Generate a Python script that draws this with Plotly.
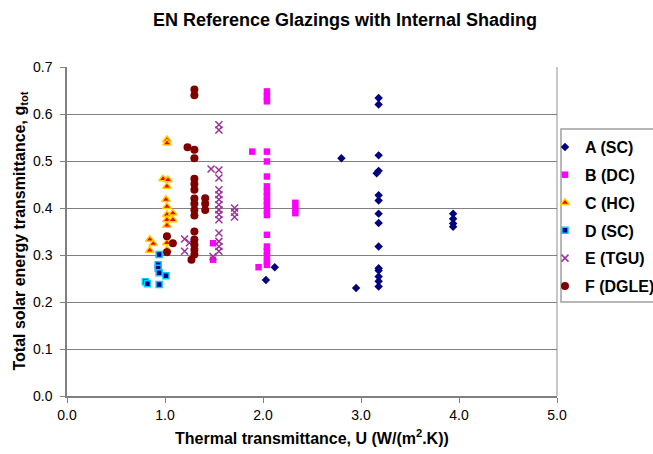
import plotly.graph_objects as go

# ---- data (U in W/(m2.K), g_tot) ----
a_u = [3.18, 3.18, 2.80, 3.18, 3.16, 3.18, 3.18, 3.18, 3.18, 3.18, 3.18, 3.18, 3.18, 3.18, 3.18, 3.18, 2.95, 2.12, 2.03, 3.94, 3.94, 3.94, 3.94]
a_g = [0.634, 0.620, 0.506, 0.512, 0.474, 0.479, 0.427, 0.416, 0.388, 0.368, 0.318, 0.272, 0.267, 0.254, 0.244, 0.233, 0.230, 0.274, 0.247, 0.388, 0.377, 0.367, 0.360]

b_u = [2.04] * 19 + [1.89, 1.955, 2.33, 2.33, 2.33, 1.49, 1.49]
b_g = [0.648, 0.637, 0.627, 0.520, 0.499, 0.467, 0.446, 0.435, 0.425, 0.415, 0.405, 0.395, 0.385, 0.343, 0.318, 0.308, 0.297, 0.286, 0.279,
       0.520, 0.274, 0.411, 0.400, 0.389, 0.325, 0.290]

c_u = [1.02, 1.02, 0.98, 1.03, 1.02, 1.01, 1.02, 1.02, 1.02, 1.02, 1.08, 1.08, 0.845, 0.88, 0.845, 1.02, 1.02]
c_g = [0.545, 0.538, 0.462, 0.460, 0.446, 0.418, 0.403, 0.386, 0.375, 0.363, 0.389, 0.375, 0.333, 0.324, 0.310, 0.326, 0.311]

d_u = [0.94, 0.93, 0.93, 0.94, 1.01, 0.80, 0.82, 0.94]
d_g = [0.301, 0.279, 0.272, 0.262, 0.256, 0.243, 0.239, 0.237]

e_u = [1.55, 1.55, 1.47, 1.55, 1.55, 1.55, 1.55, 1.55, 1.55, 1.55, 1.55, 1.55, 1.71, 1.71, 1.71, 1.55, 1.55, 1.55, 1.55, 1.49, 1.20, 1.20, 1.25]
e_g = [0.577, 0.566, 0.483, 0.481, 0.464, 0.439, 0.428, 0.418, 0.407, 0.396, 0.386, 0.375, 0.400, 0.391, 0.381, 0.347, 0.329, 0.318, 0.308, 0.297, 0.334, 0.308, 0.326]

f_u = [1.30, 1.30, 1.23, 1.30, 1.30, 1.30, 1.30, 1.30, 1.30, 1.30, 1.30, 1.30, 1.41, 1.41, 1.41, 1.30, 1.30, 1.30, 1.30, 1.30, 1.27, 1.02, 1.08, 1.02]
f_g = [0.652, 0.640, 0.529, 0.524, 0.506, 0.462, 0.451, 0.439, 0.420, 0.409, 0.396, 0.384, 0.421, 0.409, 0.396, 0.350, 0.333, 0.322, 0.311, 0.301, 0.290, 0.340, 0.325, 0.306]

series_names = ["A (SC)", "B (DC)", "C (HC)", "D (SC)", "E (TGU)", "F (DGLE)"]
x_ticks = [0, 1, 2, 3, 4, 5]
y_ticks = [0, 0.1, 0.2, 0.3, 0.4, 0.5, 0.6, 0.7]

FONT = "Arial, Liberation Sans, sans-serif"

styles = [
    dict(symbol="diamond", size=6.5, color="#000080", line=dict(width=0)),
    dict(symbol="square", size=6.5, color="#FF00FF", line=dict(width=0)),
    dict(symbol="triangle-up", size=7.5, color="#FF0000", line=dict(width=1.5, color="#FFCC00")),
    dict(symbol="square", size=6, color="#000080", line=dict(width=1.5, color="#00CCFF")),
    dict(symbol="x-thin", size=7, color="#993399", line=dict(width=1.5, color="#993399")),
    dict(symbol="circle", size=8, color="#800000", line=dict(width=0)),
]
data = [(a_u, a_g), (b_u, b_g), (c_u, c_g), (d_u, d_g), (e_u, e_g), (f_u, f_g)]

fig = go.Figure()
for i, (name, (u, g), st) in enumerate(zip(series_names, data, styles)):
    fig.add_trace(go.Scatter(x=u, y=g, mode="markers", name=name, marker=st,
                             legendgroup=name, cliponaxis=False))

fig.update_layout(
    width=653, height=454,
    margin=dict(l=67, r=96, t=67, b=58, autoexpand=False),
    paper_bgcolor="white", plot_bgcolor="white",
    font=dict(family=FONT, color="black"),
    showlegend=True,
    legend=dict(x=(545 - 67) / 490, xanchor="left", y=(396 - 130) / 329, yanchor="top",
                bgcolor="rgba(0,0,0,0)", borderwidth=0,
                font=dict(family=FONT, size=16, color="black", weight="bold"),
                tracegroupgap=4),
    xaxis=dict(range=[0, 5], tickvals=x_ticks, tickformat=".1f", showgrid=False,
               showline=True, linecolor="#808080", linewidth=1.5,
               ticks="outside", ticklen=5, tickcolor="#808080", tickwidth=1,
               tickfont=dict(size=14, color="black"), zeroline=False, fixedrange=True),
    yaxis=dict(range=[0, 0.7], tickvals=y_ticks, tickformat=".1f", showgrid=True,
               gridcolor="#808080", gridwidth=1,
               showline=True, linecolor="#808080", linewidth=1.5,
               ticks="outside", ticklen=5, tickcolor="#808080", tickwidth=1,
               ticklabelstandoff=5,
               tickfont=dict(size=14, color="black"), zeroline=False, fixedrange=True),
    shapes=[
        dict(type="line", xref="paper", yref="paper", x0=1, x1=1, y0=0, y1=1,
             line=dict(color="#C8C8C8", width=2), layer="below"),
        dict(type="rect", xref="paper", yref="paper",
             x0=(561 - 67) / 490, x1=(700 - 67) / 490,
             y0=(396 - 302) / 329, y1=(396 - 129) / 329,
             line=dict(color="#A0A0A0", width=1.5), fillcolor="white", layer="below"),
    ],
    annotations=[
        dict(text="<b>EN Reference Glazings with Internal Shading</b>", xref="paper", yref="paper",
             x=(345 - 67) / 490, y=(396 - 20) / 329, xanchor="center", yanchor="middle",
             showarrow=False, font=dict(size=18, family=FONT, color="black")),
        dict(text="<b>Thermal transmittance, U (W/(m<sup>2</sup>.K))</b>", xref="paper", yref="paper",
             x=0.5, y=-(437 - 396) / 329, xanchor="center", yanchor="middle",
             showarrow=False, font=dict(size=16, family=FONT, color="black")),
        dict(text="<b>Total solar energy transmittance, g<sub>tot</sub></b>", xref="paper", yref="paper",
             x=-(67 - 20) / 490, y=0.5, xanchor="center", yanchor="middle", textangle=-90,
             showarrow=False, font=dict(size=16, family=FONT, color="black")),
    ],
)

fig.write_html("out.html")
